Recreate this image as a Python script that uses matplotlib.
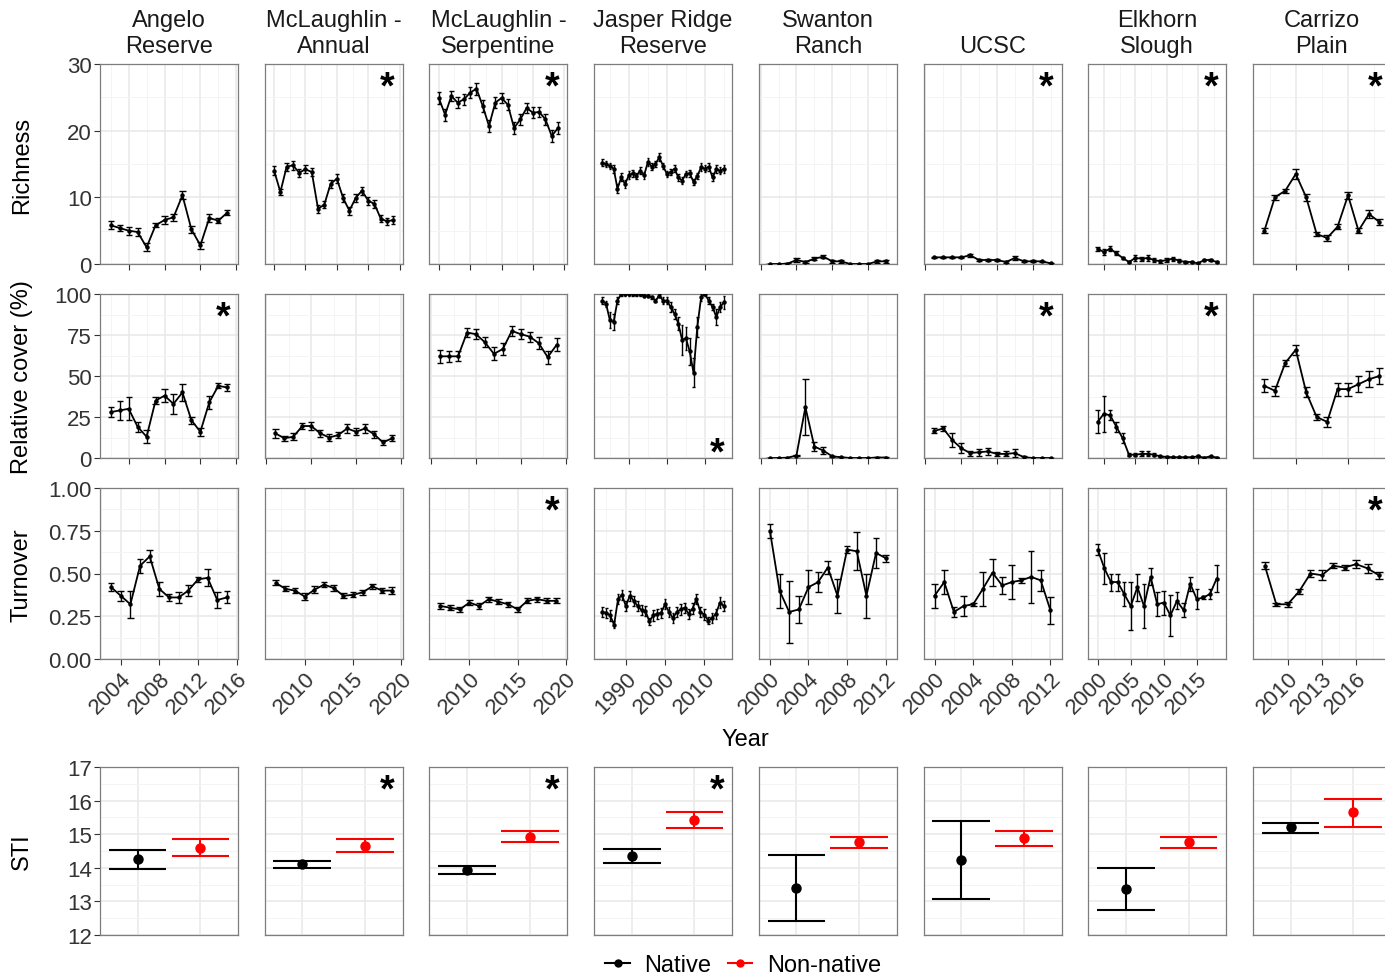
import numpy as np
import matplotlib
matplotlib.use("Agg")
import matplotlib.pyplot as plt
from matplotlib.lines import Line2D

plt.rcParams["font.family"] = ["Liberation Sans", "DejaVu Sans"]

SITES = ["Angelo\nReserve", "McLaughlin -\nAnnual", "McLaughlin -\nSerpentine", "Jasper Ridge\nReserve",
         "Swanton\nRanch", "UCSC", "Elkhorn\nSlough", "Carrizo\nPlain"]

# first year of each series (one value per year after that)
RICH_START = [2002, 2000, 2000, 1983, 1997, 1997, 1999, 2007]
COVER_START = [2002, 2006, 2006, 1983, 1997, 1997, 1999, 2007]
TURN_START = [2003, 2007, 2007, 1984, 2000, 2000, 2000, 2008]

RICH_MEAN = [
    [5.8, 5.4, 5.0, 4.8, 2.5, 5.8, 6.6, 7.0, 10.3, 5.2, 2.8, 6.9, 6.5, 7.7],
    [14.0, 10.8, 14.6, 14.8, 13.7, 14.2, 13.8, 8.3, 8.9, 12.0, 12.8, 9.9, 8.0, 9.9, 11.0, 9.5, 9.0, 6.8, 6.4, 6.6],
    [24.9, 22.4, 25.2, 24.2, 24.7, 25.7, 26.3, 23.7, 20.7, 24.2, 24.9, 23.9, 20.4, 21.7, 23.4, 22.7, 22.8, 21.7, 19.2, 20.4],
    [15.2, 15.0, 14.7, 14.3, 11.3, 13.0, 12.0, 13.3, 13.6, 13.2, 14.0, 13.3, 15.3, 14.6, 15.0, 16.0, 14.7,
     13.5, 13.8, 14.3, 13.0, 12.5, 13.5, 13.6, 12.3, 13.2, 14.5, 14.3, 14.6, 13.0, 14.2, 14.0, 14.3],
    [0.0, 0.0, 0.05, 0.6, 0.3, 0.8, 1.1, 0.4, 0.4, 0.0, 0.0, 0.0, 0.4, 0.4],
    [1.0, 1.0, 1.0, 1.0, 1.3, 0.6, 0.6, 0.6, 0.3, 0.9, 0.4, 0.4, 0.4, 0.1],
    [2.3, 1.8, 2.3, 1.6, 0.9, 0.3, 0.9, 0.8, 0.9, 0.6, 0.4, 0.6, 0.8, 0.5, 0.3, 0.3, 0.1, 0.6, 0.6, 0.3],
    [5.0, 10.0, 11.0, 13.5, 10.0, 4.5, 3.9, 5.6, 10.3, 5.0, 7.5, 6.3],
]
RICH_SE = [
    [0.6, 0.5, 0.6, 0.6, 0.6, 0.3, 0.6, 0.5, 0.6, 0.5, 0.5, 0.6, 0.4, 0.4],
    [0.7, 0.5, 0.6, 0.7, 0.6, 0.6, 0.6, 0.6, 0.5, 0.6, 0.7, 0.6, 0.6, 0.6, 0.6, 0.6, 0.6, 0.5, 0.5, 0.6],
    [0.9, 0.9, 0.8, 0.8, 0.8, 0.8, 0.9, 0.9, 0.9, 0.8, 0.8, 0.8, 0.9, 0.8, 0.8, 0.8, 0.8, 0.8, 0.9, 0.9],
    [0.5, 0.5, 0.5, 0.6, 0.7, 0.6, 0.6, 0.6, 0.5, 0.5, 0.5, 0.5, 0.6, 0.5, 0.5, 0.6, 0.5,
     0.5, 0.5, 0.5, 0.5, 0.5, 0.5, 0.5, 0.5, 0.5, 0.6, 0.5, 0.6, 0.6, 0.6, 0.5, 0.6],
    [0.0, 0.0, 0.1, 0.25, 0.2, 0.2, 0.25, 0.2, 0.2, 0.0, 0.0, 0.0, 0.2, 0.2],
    [0.05, 0.05, 0.05, 0.05, 0.2, 0.15, 0.15, 0.15, 0.1, 0.35, 0.15, 0.15, 0.1, 0.05],
    [0.3, 0.5, 0.4, 0.3, 0.2, 0.1, 0.4, 0.3, 0.5, 0.3, 0.2, 0.3, 0.3, 0.2, 0.2, 0.2, 0.1, 0.2, 0.2, 0.1],
    [0.4, 0.4, 0.3, 0.7, 0.5, 0.3, 0.4, 0.4, 0.5, 0.4, 0.6, 0.5],
]

COVER_MEAN = [
    [28, 29, 30, 19, 13, 35, 38, 33, 40, 23, 16, 34, 44, 43],
    [15, 12, 13, 19.5, 19.5, 15, 12.5, 14, 18, 16, 18, 14.5, 9.5, 12],
    [62, 62, 62, 76.5, 75.5, 70.5, 63.5, 66.5, 77.5, 75.5, 74, 70, 61.5, 69],
    [96, 94, 84, 83, 96, 100, 100, 100, 100, 100, 100, 99, 99, 98, 96, 99, 96, 96, 92, 88, 82,
     72, 73, 65, 52, 80, 98, 100, 96, 92, 86, 92, 95],
    [0, 0, 0.2, 1.5, 31, 7, 4.5, 1, 0.5, 0, 0, 0, 0.3, 0.3],
    [16.5, 18, 11, 6, 3, 3.5, 4, 2.5, 2.5, 3, 0.5, 0, 0, 0],
    [22, 27, 26, 19, 12, 2, 2, 2.5, 2.5, 2, 1, 0.6, 0.5, 0.5, 0.5, 0.5, 1, 0.2, 1, 0.3],
    [44, 41, 58, 66, 40, 25, 22, 42, 42, 45, 48, 50],
]
COVER_SE = [
    [3, 6, 7, 3, 4, 2, 4, 6, 5, 2, 2.5, 4, 1.5, 2],
    [2.5, 1.5, 2, 2, 2.5, 2, 2, 2, 2.5, 2, 2.5, 2, 1.5, 1.8],
    [4, 3.5, 3, 3, 3, 3, 4, 3.5, 3, 3, 3, 3.5, 4, 4],
    [2, 2, 5, 5, 2, 1, 1, 1, 1, 1, 1, 1, 1, 1, 1, 1, 2, 2, 3, 3, 4,
     9, 7, 8, 9, 6, 2, 1, 2, 2, 5, 3, 4],
    [0, 0, 0.1, 0.5, 17, 3, 2, 0.5, 0.2, 0, 0, 0, 0.2, 0.2],
    [1.5, 1.5, 4, 3, 1.5, 2, 2, 1, 1.5, 2.5, 0.5, 0.2, 0.1, 0.1],
    [7, 11, 3, 3, 3, 1, 1, 1.5, 1.5, 1, 0.5, 0.5, 0.3, 0.3, 0.3, 0.3, 0.6, 0.2, 0.5, 0.2],
    [4, 3, 2, 3, 3, 2, 3, 4, 4, 5, 5, 5],
]

TURN_MEAN = [
    [0.42, 0.37, 0.32, 0.545, 0.60, 0.41, 0.36, 0.36, 0.40, 0.465, 0.475, 0.345, 0.36],
    [0.445, 0.41, 0.40, 0.365, 0.405, 0.435, 0.415, 0.37, 0.375, 0.39, 0.425, 0.40, 0.40],
    [0.31, 0.30, 0.29, 0.33, 0.31, 0.35, 0.335, 0.32, 0.29, 0.34, 0.35, 0.34, 0.34],
    [0.275, 0.27, 0.255, 0.20, 0.35, 0.375, 0.31, 0.37, 0.34, 0.31, 0.285, 0.28, 0.22, 0.255, 0.265, 0.27,
     0.32, 0.275, 0.24, 0.275, 0.29, 0.30, 0.265, 0.295, 0.35, 0.275, 0.26, 0.225, 0.24, 0.265, 0.33, 0.31],
    [0.75, 0.40, 0.275, 0.29, 0.42, 0.45, 0.535, 0.37, 0.64, 0.63, 0.37, 0.62, 0.59],
    [0.37, 0.45, 0.275, 0.31, 0.32, 0.41, 0.505, 0.43, 0.45, 0.46, 0.48, 0.46, 0.285],
    [0.64, 0.53, 0.45, 0.45, 0.38, 0.31, 0.42, 0.31, 0.48, 0.32, 0.33, 0.255, 0.34, 0.285, 0.44,
     0.35, 0.36, 0.38, 0.47],
    [0.545, 0.32, 0.32, 0.395, 0.50, 0.49, 0.545, 0.535, 0.555, 0.53, 0.49],
]
TURN_SE = [
    [0.025, 0.03, 0.08, 0.04, 0.035, 0.04, 0.02, 0.03, 0.03, 0.015, 0.05, 0.045, 0.035],
    [0.015, 0.015, 0.015, 0.02, 0.02, 0.015, 0.015, 0.015, 0.015, 0.015, 0.015, 0.015, 0.02],
    [0.015, 0.015, 0.015, 0.015, 0.015, 0.015, 0.015, 0.015, 0.015, 0.015, 0.015, 0.015, 0.015],
    [0.03, 0.03, 0.03, 0.02, 0.03, 0.03, 0.03, 0.03, 0.03, 0.03, 0.03, 0.03, 0.02, 0.03, 0.03, 0.03,
     0.03, 0.03, 0.03, 0.03, 0.03, 0.03, 0.03, 0.03, 0.03, 0.03, 0.03, 0.02, 0.03, 0.03, 0.03, 0.03],
    [0.04, 0.1, 0.18, 0.08, 0.1, 0.06, 0.04, 0.1, 0.02, 0.11, 0.13, 0.09, 0.02],
    [0.07, 0.07, 0.03, 0.06, 0.01, 0.1, 0.08, 0.05, 0.1, 0.015, 0.15, 0.06, 0.08],
    [0.03, 0.09, 0.05, 0.05, 0.07, 0.14, 0.08, 0.13, 0.05, 0.07, 0.07, 0.12, 0.05, 0.04, 0.04,
     0.06, 0.01, 0.03, 0.08],
    [0.02, 0.01, 0.015, 0.015, 0.02, 0.03, 0.015, 0.015, 0.025, 0.025, 0.02],
]

STI_NATIVE = [14.25, 14.1, 13.93, 14.35, 13.4, 14.23, 13.38, 15.2]
STI_NATIVE_LO = [13.96, 13.99, 13.82, 14.14, 12.43, 13.06, 12.73, 15.03]
STI_NATIVE_HI = [14.53, 14.21, 14.04, 14.55, 14.39, 15.39, 13.99, 15.34]
STI_NONNATIVE = [14.6, 14.65, 14.93, 15.42, 14.78, 14.9, 14.77, 15.65]
STI_NONNATIVE_LO = [14.34, 14.47, 14.76, 15.18, 14.60, 14.65, 14.60, 15.22]
STI_NONNATIVE_HI = [14.85, 14.85, 15.10, 15.67, 14.93, 15.11, 14.93, 16.05]

# significance markers: (row, column, corner)
STARS = [(0, 1, "top"), (0, 2, "top"), (0, 5, "top"), (0, 6, "top"), (0, 7, "top"),
         (1, 0, "top"), (1, 5, "top"), (1, 6, "top"), (1, 3, "bottom"),
         (2, 2, "top"), (2, 7, "top"),
         (3, 1, "top"), (3, 2, "top"), (3, 3, "top")]

TICK_STEP_TOP = [4, 5, 5, 10, 4, 4, 5, 5]
TICK_STEP_TURN = [4, 5, 5, 10, 4, 4, 5, 3]

W, H = 1385, 979
fig = plt.figure(figsize=(W / 100, H / 100), dpi=100, facecolor="white")

LEFTS = [100 + 164.7 * i for i in range(8)]
PW = 138
ROWS = [(65, 265), (295, 459), (489, 660), (768, 936)]

GRID_MAJ = "#e8e8e8"
GRID_MIN = "#f3f3f3"
BORDER = "#7d7d7d"
TXT = "#333333"


def make_ax(row, col):
    top, bot = ROWS[row]
    ax = fig.add_axes([LEFTS[col] / W, 1 - bot / H, PW / W, (bot - top) / H])
    for s in ax.spines.values():
        s.set_color(BORDER)
        s.set_linewidth(0.9)
    ax.set_axisbelow(True)
    ax.grid(which="major", color=GRID_MAJ, lw=1.1)
    ax.grid(which="minor", color=GRID_MIN, lw=0.6)
    ax.tick_params(which="major", length=4, width=0.8, color="#333333", labelsize=16, labelcolor=TXT, pad=2)
    ax.tick_params(which="minor", length=0)
    return ax


def x_axis_years(ax, years, step, labels):
    span = years[-1] - years[0]
    pad = 0.5 + 0.05 * (span + 1)
    lo, hi = years[0] - pad, years[-1] + pad
    ax.set_xlim(lo, hi)
    major = np.arange(np.ceil(lo / step) * step, hi + 1e-9, step)
    # breaks sitting right on the panel edge are dropped
    major = major[(major > lo + 0.1) & (major < hi - 0.1)]
    minor = np.arange(np.floor(lo / step) * step - step / 2, hi + step, step)
    ax.set_xticks(major)
    ax.set_xticks(minor[(minor > lo) & (minor < hi)], minor=True)
    if labels:
        ax.set_xticklabels([str(int(v)) for v in major], rotation=45, ha="right", va="top",
                           rotation_mode="anchor")
    else:
        ax.set_xticklabels([])


def draw_series(ax, years, mean, se, cap=0.7):
    mean = np.asarray(mean, float)
    se = np.asarray(se, float)
    ax.vlines(years, mean - se, mean + se, color="black", lw=1.0, zorder=3)
    ax.hlines(mean - se, years - cap / 2, years + cap / 2, color="black", lw=1.0, zorder=3)
    ax.hlines(mean + se, years - cap / 2, years + cap / 2, color="black", lw=1.0, zorder=3)
    ax.plot(years, mean, color="black", lw=1.3, marker="o", ms=2.2, zorder=4)


def y_axis(ax, lim, major, minor, col, fmt):
    ax.set_ylim(*lim)
    ax.set_yticks(major)
    ax.set_yticks(minor, minor=True)
    if col == 0:
        ax.set_yticklabels([fmt.format(v) for v in major])
    else:
        ax.tick_params(axis="y", which="major", length=0, labelleft=False)


axes = {}
for col in range(8):
    # richness
    ax = make_ax(0, col)
    yrs = np.arange(RICH_START[col], RICH_START[col] + len(RICH_MEAN[col]))
    draw_series(ax, yrs, RICH_MEAN[col], RICH_SE[col])
    x_axis_years(ax, yrs, TICK_STEP_TOP[col], False)
    y_axis(ax, (0, 30), [0, 10, 20, 30], [5, 15, 25], col, "{:.0f}")
    axes[(0, col)] = ax
    ax.annotate(SITES[col], xy=(0.5, 1), xycoords="axes fraction", xytext=(0, 5),
                textcoords="offset points", ha="center", va="bottom", fontsize=17,
                color="#1a1a1a", linespacing=1.25)

    # relative cover
    ax = make_ax(1, col)
    yrs = np.arange(COVER_START[col], COVER_START[col] + len(COVER_MEAN[col]))
    draw_series(ax, yrs, COVER_MEAN[col], COVER_SE[col])
    x_axis_years(ax, yrs, TICK_STEP_TOP[col], False)
    y_axis(ax, (0, 100), [0, 25, 50, 75, 100], [12.5, 37.5, 62.5, 87.5], col, "{:.0f}")
    axes[(1, col)] = ax

    # turnover
    ax = make_ax(2, col)
    yrs = np.arange(TURN_START[col], TURN_START[col] + len(TURN_MEAN[col]))
    draw_series(ax, yrs, TURN_MEAN[col], TURN_SE[col])
    x_axis_years(ax, yrs, TICK_STEP_TURN[col], True)
    y_axis(ax, (0, 1), [0, 0.25, 0.5, 0.75, 1.0], [0.125, 0.375, 0.625, 0.875], col, "{:.2f}")
    axes[(2, col)] = ax

    # STI
    ax = make_ax(3, col)
    ax.set_xlim(0.4, 2.6)
    ax.set_xticks([1, 2])
    ax.tick_params(axis="x", length=0, labelbottom=False)
    ax.grid(axis="x", which="minor", visible=False)
    y_axis(ax, (12, 17), [12, 13, 14, 15, 16, 17], [12.5, 13.5, 14.5, 15.5, 16.5], col, "{:.0f}")
    for xpos, m, lo, hi, c in [(1, STI_NATIVE[col], STI_NATIVE_LO[col], STI_NATIVE_HI[col], "black"),
                               (2, STI_NONNATIVE[col], STI_NONNATIVE_LO[col], STI_NONNATIVE_HI[col], "#ff0000")]:
        ax.vlines(xpos, lo, hi, color=c, lw=1.5, zorder=3)
        ax.hlines([lo, hi], xpos - 0.46, xpos + 0.46, color=c, lw=1.5, zorder=3)
        ax.plot([xpos], [m], "o", color=c, ms=6.5, zorder=4)
    axes[(3, col)] = ax

for row, col, corner in STARS:
    ax = axes[(row, col)]
    if corner == "top":
        ax.annotate("*", xy=(1, 1), xycoords="axes fraction", xytext=(-11, -24),
                    textcoords="offset points", ha="center", va="baseline",
                    fontsize=27, fontweight="bold", color="black")
    else:
        ax.annotate("*", xy=(1, 0), xycoords="axes fraction", xytext=(-11, -4),
                    textcoords="offset points", ha="center", va="baseline",
                    fontsize=27, fontweight="bold", color="black")

ylabels = [("Richness", 165), ("Relative cover (%)", 377), ("Turnover", 575), ("STI", 852)]
for text, yc in ylabels:
    fig.text(22 / W, 1 - yc / H, text, rotation=90, ha="center", va="center", fontsize=17, color="black")

fig.text(745 / W, 1 - 740 / H, "Year", ha="center", va="center", fontsize=17, color="black")

handles = [Line2D([0], [0], color="black", lw=1.5, marker="o", ms=5),
           Line2D([0], [0], color="#ff0000", lw=1.5, marker="o", ms=5)]
fig.legend(handles, ["Native", "Non-native"], loc="center", bbox_to_anchor=(743 / W, 1 - 966 / H),
           ncol=2, frameon=False, fontsize=17, handlelength=1.05, handletextpad=0.6, columnspacing=0.7)

fig.savefig("out.png", dpi=100, facecolor="white")
